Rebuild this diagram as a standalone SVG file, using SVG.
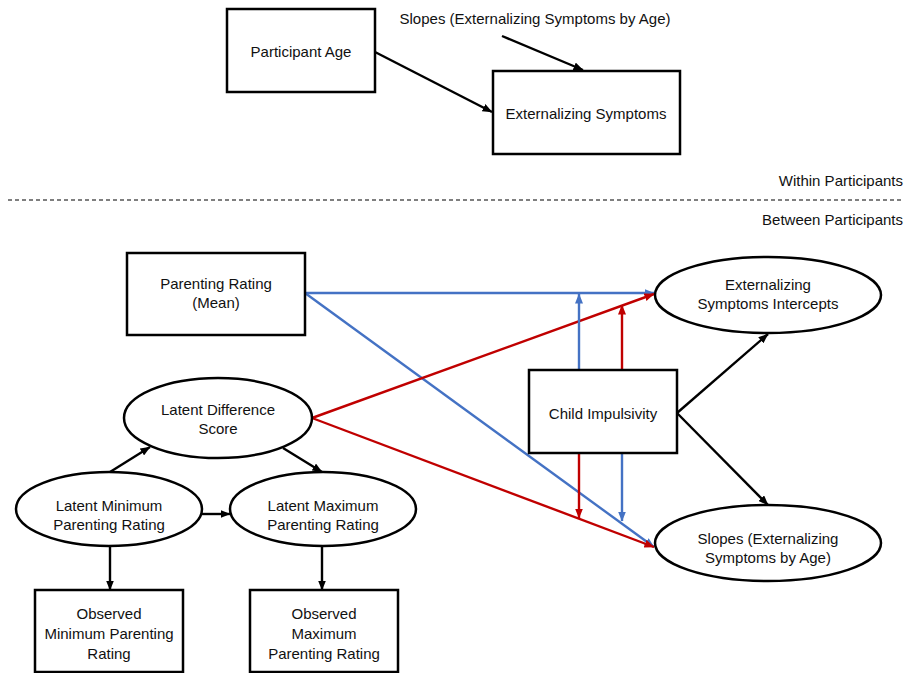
<svg xmlns="http://www.w3.org/2000/svg" width="904" height="673" viewBox="0 0 904 673">
<defs>
<style>
text{font-family:"Liberation Sans",Arial,sans-serif;font-size:15px;fill:#111;text-anchor:middle;dominant-baseline:central}
.box{fill:#fff;stroke:#000;stroke-width:2.5}
.k{stroke:#000;stroke-width:2.4;fill:none}
.b{stroke:#4472C4;stroke-width:2.4;fill:none}
.r{stroke:#C00000;stroke-width:2.4;fill:none}
</style>
<marker id="ak" viewBox="0 0 10 8" refX="9.5" refY="4" markerWidth="10" markerHeight="8" markerUnits="userSpaceOnUse" orient="auto"><path d="M0,0L10,4L0,8z" fill="#000"/></marker>
<marker id="ab" viewBox="0 0 10 8" refX="9.5" refY="4" markerWidth="10" markerHeight="8" markerUnits="userSpaceOnUse" orient="auto"><path d="M0,0L10,4L0,8z" fill="#4472C4"/></marker>
<marker id="ar" viewBox="0 0 10 8" refX="9.5" refY="4" markerWidth="10" markerHeight="8" markerUnits="userSpaceOnUse" orient="auto"><path d="M0,0L10,4L0,8z" fill="#C00000"/></marker>
</defs>
<rect width="904" height="673" fill="#fff"/>
<g id="connectors">
<line class="k" x1="375" y1="52" x2="492" y2="112" marker-end="url(#ak)"/>
<line class="k" x1="502" y1="36" x2="583" y2="70" marker-end="url(#ak)"/>
<line x1="8" y1="200" x2="904" y2="200" stroke="#000" stroke-width="1.2" stroke-dasharray="4,3"/>
<line class="b" x1="305" y1="293" x2="654" y2="293" marker-end="url(#ab)"/>
<line class="b" x1="305" y1="293" x2="654" y2="547" marker-end="url(#ab)"/>
<line class="r" x1="312" y1="418" x2="654" y2="294" marker-end="url(#ar)"/>
<line class="r" x1="312" y1="418" x2="654" y2="547" marker-end="url(#ar)"/>
<line class="b" x1="579" y1="370" x2="579" y2="294" marker-end="url(#ab)"/>
<line class="r" x1="622" y1="370" x2="622" y2="305" marker-end="url(#ar)"/>
<line class="r" x1="579" y1="453" x2="579" y2="518" marker-end="url(#ar)"/>
<line class="b" x1="622" y1="453" x2="622" y2="521" marker-end="url(#ab)"/>
<line class="k" x1="677" y1="413" x2="768" y2="334" marker-end="url(#ak)"/>
<line class="k" x1="677" y1="413" x2="768" y2="505" marker-end="url(#ak)"/>
<line class="k" x1="110" y1="472" x2="150" y2="447" marker-end="url(#ak)"/>
<line class="k" x1="283" y1="448" x2="322" y2="472" marker-end="url(#ak)"/>
<line class="k" x1="202" y1="514" x2="230" y2="514" marker-end="url(#ak)"/>
<line class="k" x1="110" y1="546" x2="110" y2="590" marker-end="url(#ak)"/>
<line class="k" x1="322" y1="546" x2="322" y2="590" marker-end="url(#ak)"/>
</g>
<g id="participant-age"><rect class="box" x="227" y="9" width="148" height="83"/><text x="301" y="51">Participant Age</text></g>
<g id="externalizing-symptoms"><rect class="box" x="493" y="71" width="187" height="83"/><text x="586" y="113">Externalizing Symptoms</text></g>
<g id="slopes-label"><text x="535" y="18">Slopes (Externalizing Symptoms by Age)</text></g>
<g id="within"><text x="903" y="180" style="text-anchor:end">Within Participants</text></g>
<g id="between"><text x="903" y="219" style="text-anchor:end">Between Participants</text></g>
<g id="parenting-mean"><rect class="box" x="127" y="253" width="178" height="82"/><text x="216" y="283">Parenting Rating</text><text x="216" y="302">(Mean)</text></g>
<g id="ext-intercepts"><ellipse class="box" cx="768" cy="295" rx="113" ry="38"/><text x="768" y="284">Externalizing</text><text x="768" y="303">Symptoms Intercepts</text></g>
<g id="child-impulsivity"><rect class="box" x="529" y="370" width="148" height="83"/><text x="603" y="413">Child Impulsivity</text></g>
<g id="slopes"><ellipse class="box" cx="768" cy="543" rx="113" ry="38"/><text x="768" y="538">Slopes (Externalizing</text><text x="768" y="557">Symptoms by Age)</text></g>
<g id="latent-diff"><ellipse class="box" cx="218" cy="418" rx="94" ry="40"/><text x="218" y="409">Latent Difference</text><text x="218" y="428">Score</text></g>
<g id="latent-min"><ellipse class="box" cx="109" cy="509" rx="93" ry="37"/><text x="109" y="505">Latent Minimum</text><text x="109" y="524">Parenting Rating</text></g>
<g id="latent-max"><ellipse class="box" cx="323" cy="509" rx="93" ry="37"/><text x="323" y="505">Latent Maximum</text><text x="323" y="524">Parenting Rating</text></g>
<g id="obs-min"><rect class="box" x="35" y="590" width="148" height="82"/><text x="109" y="613">Observed</text><text x="109" y="633">Minimum Parenting</text><text x="109" y="653">Rating</text></g>
<g id="obs-max"><rect class="box" x="250" y="590" width="148" height="82"/><text x="324" y="613">Observed</text><text x="324" y="633">Maximum</text><text x="324" y="653">Parenting Rating</text></g>
</svg>
